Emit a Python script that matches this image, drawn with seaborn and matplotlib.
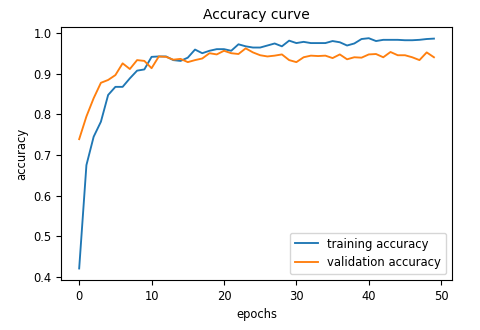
import numpy as np
import pandas as pd
import seaborn as sns
import matplotlib
matplotlib.use("Agg")
import matplotlib.pyplot as plt

# accuracy values, epochs 0..49
epochs = list(range(50))
train_acc = [0.420, 0.675, 0.745, 0.782, 0.848, 0.868, 0.868, 0.889, 0.908, 0.911,
             0.942, 0.943, 0.943, 0.934, 0.932, 0.940, 0.960, 0.951, 0.957, 0.961,
             0.961, 0.957, 0.973, 0.968, 0.965, 0.965, 0.970, 0.975, 0.968, 0.982,
             0.976, 0.979, 0.976, 0.976, 0.976, 0.981, 0.978, 0.970, 0.975, 0.986,
             0.988, 0.981, 0.984, 0.984, 0.984, 0.983, 0.983, 0.984, 0.986, 0.987]
val_acc = [0.739, 0.795, 0.840, 0.878, 0.885, 0.897, 0.926, 0.912, 0.934, 0.932,
           0.914, 0.943, 0.942, 0.935, 0.937, 0.929, 0.934, 0.938, 0.951, 0.948,
           0.957, 0.951, 0.949, 0.963, 0.953, 0.946, 0.943, 0.945, 0.948, 0.934,
           0.929, 0.941, 0.945, 0.944, 0.945, 0.939, 0.948, 0.936, 0.941, 0.940,
           0.948, 0.949, 0.941, 0.954, 0.946, 0.946, 0.941, 0.934, 0.953, 0.941]
labels = ["training accuracy", "validation accuracy"]

df = pd.DataFrame({
    "epochs": epochs * 2,
    "accuracy": train_acc + val_acc,
    "series": [labels[0]] * len(epochs) + [labels[1]] * len(epochs),
})

fig = plt.figure(figsize=(4.8, 3.3), dpi=100)
ax = fig.add_axes([0.128, 0.152, 0.813, 0.766])
sns.lineplot(data=df, x="epochs", y="accuracy", hue="series",
             palette=["#1f77b4", "#ff7f0e"], linewidth=1.35, ax=ax)

ax.set_title("Accuracy curve", fontsize=10)
ax.set_xlabel("epochs", fontsize=8.3)
ax.set_ylabel("accuracy", fontsize=8.3)
ax.tick_params(labelsize=8.3)
ax.set_xticks([0, 10, 20, 30, 40, 50])
ax.set_yticks([0.4, 0.5, 0.6, 0.7, 0.8, 0.9, 1.0])
ax.set_xlim(-2.45, 51.45)
ax.set_ylim(0.392, 1.0155)
ax.legend(loc="lower right", fontsize=8.4, title=None)

fig.savefig("out.png", dpi=100)
